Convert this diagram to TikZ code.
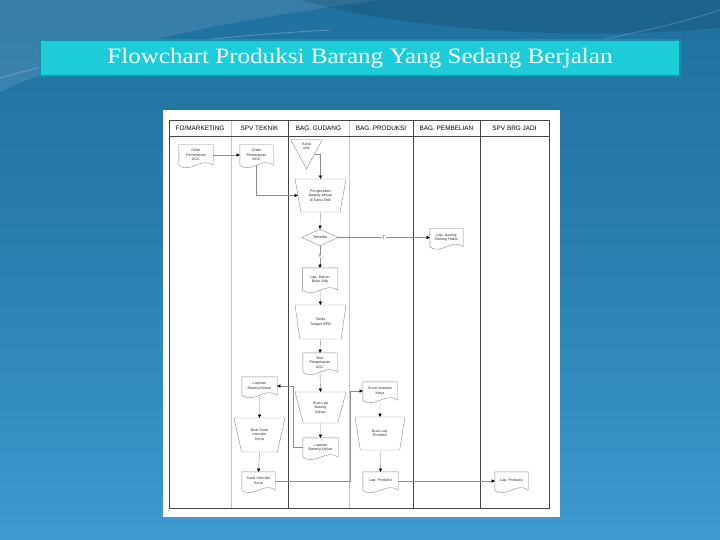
\documentclass[tikz,border=0pt]{standalone}
\usepackage{fontspec}
\setmainfont{Liberation Serif}
\newfontfamily\lsans{Liberation Sans}
\usetikzlibrary{shapes.geometric,arrows.meta,calc}
\definecolor{bgtop}{HTML}{20709F}
\definecolor{bgmid}{HTML}{2A80B2}
\definecolor{bgbot}{HTML}{3E9AD0}
\definecolor{titlefill}{HTML}{1CCCD8}
\definecolor{titleedge}{HTML}{1590A8}
\definecolor{shapegray}{HTML}{8A8A8A}
\definecolor{linegray}{HTML}{8C8C8C}
\definecolor{lanedark}{HTML}{444444}
\definecolor{lanelight}{HTML}{C4C4C4}
\definecolor{txtgray}{HTML}{333333}
\tikzset{
  txt/.style={font=\lsans\fontsize{3.7}{4.4}\selectfont, text=txtgray, align=center, inner sep=0pt},
  docbox/.style={txt, rectangle, draw=none},
  docline/.style={draw=shapegray, line width=0.4pt},
  manop/.style={txt, trapezium, trapezium stretches=true, shape border rotate=180,
    trapezium left angle=73, trapezium right angle=73, draw=shapegray, line width=0.4pt},
  decision/.style={txt, diamond, draw=shapegray, line width=0.4pt},
  conn/.style={draw=linegray, line width=0.4pt, -{Triangle[length=3.2pt,width=3.2pt,color=black]}},
  lbl/.style={font=\lsans\fontsize{5}{5.5}\selectfont, text=txtgray, fill=white, inner sep=0.6pt},
  lanehead/.style={font=\lsans\fontsize{6.4}{7}\selectfont, text=black, inner sep=0pt},
  titlebox/.style={fill=titlefill, draw=titleedge, line width=1.2pt, minimum width=640pt,
    minimum height=36pt, text=white, font=\fontsize{22}{25}\selectfont, inner sep=0pt}
}
\begin{document}
\begin{tikzpicture}[x=1pt,y=-1pt]
\useasboundingbox (0,0) rectangle (720,540);
% background
\fill[top color=bgtop, bottom color=bgbot, middle color=bgmid] (0,0) rectangle (720,540);
\fill[white, opacity=0.10] (0,0) -- (380,0) .. controls (250,18) and (110,40) .. (0,92) -- cycle;
\fill[black, opacity=0.12] (300,0) .. controls (400,28) and (560,42) .. (720,28) -- (720,0) -- cycle;
\draw[white, opacity=0.25, line width=0.8pt] (0,78) .. controls (80,55) and (180,38) .. (330,30);
\draw[white, opacity=0.22, line width=0.8pt] (600,40) .. controls (650,30) and (690,20) .. (720,10);

% title
\node[titlebox] (title) at (360,58) {\scalebox{1.14}[1]{Flowchart Produksi Barang Yang Sedang Berjalan}};

% panel and lanes
\fill[white] (163,110) rectangle (560,517);
\draw[lanelight, line width=0.5pt] (231,120) -- (231,508);
\draw[lanelight, line width=0.5pt] (349,120) -- (349,508);
\draw[lanedark, line width=0.6pt] (288,120) -- (288,508);
\draw[lanedark, line width=0.6pt] (413,120) -- (413,508);
\draw[lanedark, line width=0.6pt] (480,120) -- (480,508);
\draw[lanedark, line width=0.6pt] (169,136) -- (549,136);
\draw[lanedark, line width=0.7pt] (169,120) rectangle (549,508);

\node[lanehead] (h1) at (200,128) {FO/MARKETING};
\node[lanehead] (h2) at (259.5,128) {SPV TEKNIK};
\node[lanehead] (h3) at (318.5,128) {BAG. GUDANG};
\node[lanehead] (h4) at (381,128) {BAG. PRODUKSI};
\node[lanehead] (h5) at (446.5,128) {BAG. PEMBELIAN};
\node[lanehead] (h6) at (514.5,128) {SPV BRG JADI};

% documents
\node[docbox, minimum width=34pt, minimum height=20pt] (ord1) at (196,155) {Order\\Pemesanan\\AGC};
\node[docbox, minimum width=33pt, minimum height=20pt] (ord2) at (256.5,155) {Order\\Pemesanan\\AGC};
\node[docbox, minimum width=33pt, minimum height=18pt] (lbh) at (446.5,237.5) {Lap. barang\\Barang Habis};
\node[docbox, minimum width=35pt, minimum height=22pt] (lba) at (320,279) {Lap. Bahan\\Baku Ada};
\node[docbox, minimum width=34pt, minimum height=19pt] (bon) at (320,362.5) {Bon\\Pengeluaran\\AGC};
\node[docbox, minimum width=35pt, minimum height=19pt] (lbk) at (320.5,447.5) {Laporan\\Barang Keluar};
\node[docbox, minimum width=35pt, minimum height=18pt] (lbk2) at (259.5,386) {Laporan\\Barang Keluar};
\node[docbox, minimum width=33pt, minimum height=18pt] (sik) at (258.5,481) {Surat Instruksi\\Kerja};
\node[docbox, minimum width=34pt, minimum height=18pt] (sik2) at (380,391) {Surat Instruksi\\Kerja};
\node[docbox, minimum width=35pt, minimum height=18pt] (lp) at (380.5,481) {Lap. Produksi};
\node[docbox, minimum width=33pt, minimum height=18pt] (lp2) at (511.5,481) {Lap. Produksi};
\foreach \d in {ord1,ord2,lbh,lba,bon,lbk,lbk2,sik,sik2,lp,lp2}{
  \draw[docline] (\d.south west) -- (\d.north west) -- (\d.north east) -- (\d.south east)
    .. controls ($(\d.south east)!0.35!(\d.south west)+(0pt,9pt)$) and ($(\d.south east)!0.65!(\d.south west)+(0pt,-9pt)$) .. (\d.south west);
}

% storage triangle
\node[docbox, minimum width=31pt, minimum height=12pt] (ks) at (306.5,146) {Kartu\\stok};
\coordinate (ksapex) at ([yshift=-29pt]ks.north);
\draw[docline] (ks.north west) -- (ks.north east) -- (ksapex) -- cycle;
\coordinate (ksx) at ($(ks.north east)!0.48!(ksapex)$);

% manual operations
\node[manop, minimum width=51pt, minimum height=33pt] (cek) at (320.5,195.5) {Pengecekan\\barang sesuai\\di Kartu Stok};
\node[manop, minimum width=51pt, minimum height=34pt] (ttd) at (320.5,322) {Tanda\\Tangan BPB};
\node[manop, minimum width=51pt, minimum height=31pt] (blk) at (320.5,407.5) {Buat Lap\\Barang\\Keluar};
\node[manop, minimum width=51pt, minimum height=34pt] (bsik) at (259.5,435) {Buat Surat\\Instruksi\\Kerja};
\node[manop, minimum width=50pt, minimum height=33pt] (blp) at (380,433.5) {Buat Lap.\\Produksi};

% decision
\node[decision, minimum width=36pt, minimum height=17pt] (ters) at (320,237.5) {Tersedia};

% connectors
\draw[conn] (ord1.east) -- (ord2.west);
\draw[conn] (ord2.south) |- (cek.west);
\draw[conn] (ksx) -| (cek.north);
\draw[conn] (cek.south) -- (ters.north);
\draw[conn] (ters.east) -- node[lbl]{T} (lbh.west);
\draw[conn] (ters.south) -- node[lbl, pos=0.45]{Y} (lba.north);
\draw[conn] (lba.south) -- (ttd.north);
\draw[conn] (ttd.south) -- (bon.north);
\draw[conn] (bon.south) -- (blk.north);
\draw[conn] (blk.south) -- (lbk.north);
\draw[conn] (lbk.west) -- ++(-10,0) |- (lbk2.east);
\draw[conn] (lbk2.south) -- (bsik.north);
\draw[conn] (bsik.south) -- (sik.north);
\draw[conn] (sik.east) -| ([xshift=-13pt]sik2.west) -- (sik2.west);
\draw[conn] (sik2.south) -- (blp.north);
\draw[conn] (blp.south) -- (lp.north);
\draw[conn] (lp.east) -- (lp2.west);
\end{tikzpicture}
\end{document}
